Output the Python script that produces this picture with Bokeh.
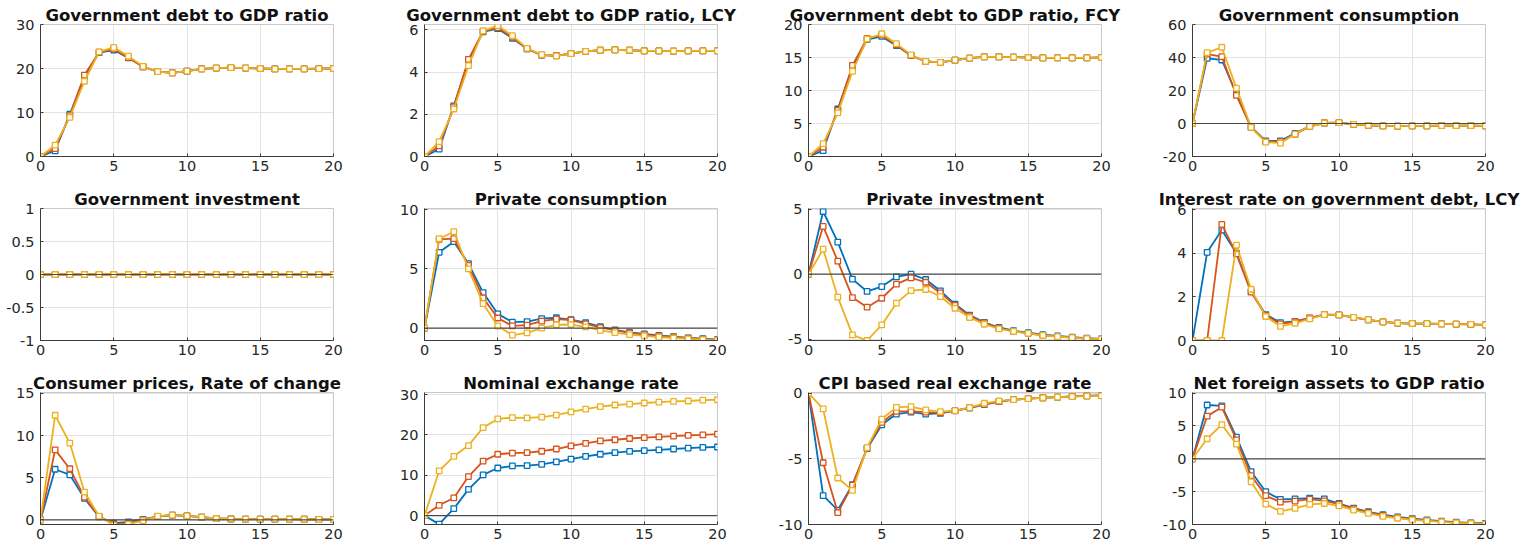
from bokeh.plotting import figure
from bokeh.layouts import gridplot
from bokeh.models import Range1d, FixedTicker, Span
from bokeh.embed import file_html
from bokeh.resources import INLINE

# Quarters after the shock
periods = list(range(21))

# Series colours (scenario 1, 2, 3)
BLUE, RED, YELLOW = "#0072BD", "#D95319", "#EDB120"

# --- Government debt to GDP ratio ---
debt_gdp_1 = [0, 1.3, 9.6, 18.0, 23.6, 24.2, 22.4, 20.4, 19.3, 19.0, 19.4, 19.9, 20.1, 20.2, 20.1, 20.0, 19.9, 19.9, 19.9, 19.95, 20.0]
debt_gdp_2 = [0, 1.8, 9.3, 18.5, 23.7, 24.4, 22.5, 20.4, 19.3, 19.0, 19.4, 19.9, 20.1, 20.2, 20.1, 20.0, 19.9, 19.9, 19.9, 19.95, 20.0]
debt_gdp_3 = [0, 2.6, 8.9, 17.1, 23.8, 24.8, 22.8, 20.5, 19.3, 19.0, 19.4, 19.9, 20.1, 20.2, 20.1, 20.0, 19.9, 19.9, 19.9, 19.95, 20.0]

# --- Government debt to GDP ratio, LCY ---
debt_lcy_1 = [0, 0.35, 2.4, 4.5, 5.9, 6.05, 5.6, 5.1, 4.8, 4.78, 4.87, 4.98, 5.03, 5.05, 5.03, 5.0, 5.0, 4.99, 5.0, 5.0, 5.0]
debt_lcy_2 = [0, 0.5, 2.35, 4.6, 5.93, 6.1, 5.65, 5.1, 4.8, 4.77, 4.87, 4.98, 5.03, 5.05, 5.03, 5.0, 5.0, 4.99, 5.0, 5.0, 5.0]
debt_lcy_3 = [0, 0.7, 2.25, 4.3, 5.95, 6.2, 5.72, 5.12, 4.82, 4.76, 4.87, 4.98, 5.03, 5.05, 5.03, 5.0, 5.0, 4.99, 5.0, 5.0, 5.0]

# --- Government debt to GDP ratio, FCY ---
debt_fcy_1 = [0, 0.9, 7.2, 13.5, 17.7, 18.2, 16.8, 15.3, 14.4, 14.25, 14.6, 14.9, 15.1, 15.1, 15.05, 15.0, 14.95, 14.95, 14.95, 14.95, 15.0]
debt_fcy_2 = [0, 1.4, 7.0, 13.8, 17.9, 18.4, 16.9, 15.3, 14.4, 14.25, 14.6, 14.9, 15.1, 15.1, 15.05, 15.0, 14.95, 14.95, 14.95, 14.95, 15.0]
debt_fcy_3 = [0, 1.95, 6.6, 12.9, 17.8, 18.6, 17.1, 15.4, 14.4, 14.25, 14.6, 14.9, 15.1, 15.1, 15.05, 15.0, 14.95, 14.95, 14.95, 14.95, 15.0]

# --- Government consumption ---
gov_cons_1 = [0, 39.5, 38.5, 18.0, -2.0, -10.5, -10.5, -6.0, -1.7, 0.3, 0.5, -0.5, -1.1, -1.5, -1.6, -1.5, -1.4, -1.3, -1.3, -1.3, -1.4]
gov_cons_2 = [0, 42.0, 40.5, 17.0, -2.5, -11.0, -11.0, -6.5, -1.8, 0.3, 0.5, -0.5, -1.1, -1.5, -1.6, -1.5, -1.4, -1.3, -1.3, -1.3, -1.4]
gov_cons_3 = [0, 42.9, 46.2, 21.4, -2.3, -11.3, -11.9, -6.4, -1.7, 0.3, 0.5, -0.5, -1.1, -1.5, -1.6, -1.5, -1.4, -1.3, -1.3, -1.3, -1.4]

# --- Government investment ---
gov_inv_1 = [0] * 21
gov_inv_2 = [0] * 21
gov_inv_3 = [0] * 21

# --- Private consumption ---
priv_cons_1 = [0, 6.4, 7.3, 5.45, 3.0, 1.2, 0.5, 0.55, 0.8, 0.87, 0.72, 0.45, 0.12, -0.15, -0.37, -0.5, -0.62, -0.72, -0.82, -0.9, -0.97]
priv_cons_2 = [0, 7.5, 7.55, 5.3, 2.55, 0.85, 0.18, 0.25, 0.58, 0.75, 0.68, 0.35, 0.05, -0.2, -0.4, -0.55, -0.66, -0.76, -0.86, -0.93, -1.0]
priv_cons_3 = [0, 7.55, 8.14, 5.0, 2.06, 0.17, -0.59, -0.4, 0.0, 0.28, 0.3, 0.1, -0.2, -0.38, -0.55, -0.66, -0.76, -0.84, -0.92, -0.98, -1.05]

# --- Private investment ---
priv_inv_1 = [0, 4.82, 2.46, -0.38, -1.33, -0.95, -0.2, 0.0, -0.41, -1.28, -2.3, -3.15, -3.7, -4.1, -4.35, -4.5, -4.65, -4.75, -4.85, -4.92, -4.97]
priv_inv_2 = [0, 3.67, 1.0, -1.8, -2.54, -1.85, -0.77, -0.28, -0.62, -1.44, -2.4, -3.2, -3.75, -4.15, -4.4, -4.55, -4.7, -4.8, -4.88, -4.95, -5.0]
priv_inv_3 = [0, 1.92, -1.77, -4.67, -5.1, -3.9, -2.23, -1.26, -1.18, -1.72, -2.62, -3.33, -3.85, -4.2, -4.4, -4.55, -4.7, -4.8, -4.88, -4.95, -5.0]

# --- Interest rate on government debt, LCY ---
rate_lcy_1 = [0, 4.04, 5.06, 4.0, 2.24, 1.19, 0.82, 0.88, 1.03, 1.19, 1.17, 1.06, 0.95, 0.85, 0.8, 0.78, 0.77, 0.76, 0.75, 0.74, 0.72]
rate_lcy_2 = [0, 0, 5.32, 3.97, 2.22, 1.15, 0.76, 0.86, 1.04, 1.19, 1.17, 1.06, 0.95, 0.85, 0.8, 0.78, 0.77, 0.76, 0.75, 0.74, 0.72]
rate_lcy_3 = [0, 0, 0, 4.37, 2.35, 1.1, 0.65, 0.79, 0.99, 1.19, 1.17, 1.06, 0.96, 0.85, 0.8, 0.78, 0.77, 0.76, 0.75, 0.74, 0.72]

# --- Consumer prices, rate of change ---
cpi_1 = [0, 6.0, 5.34, 2.55, 0.35, -0.4, -0.25, 0.05, 0.4, 0.55, 0.48, 0.32, 0.16, 0.1, 0.08, 0.08, 0.08, 0.08, 0.07, 0.05, 0.05]
cpi_2 = [0, 8.3, 6.06, 2.7, 0.4, -0.5, -0.4, 0.0, 0.42, 0.56, 0.48, 0.32, 0.16, 0.1, 0.08, 0.08, 0.08, 0.08, 0.07, 0.05, 0.05]
cpi_3 = [0, 12.4, 9.1, 3.3, 0.44, -0.62, -0.52, -0.08, 0.44, 0.56, 0.48, 0.32, 0.16, 0.1, 0.08, 0.08, 0.08, 0.08, 0.07, 0.05, 0.05]

# --- Nominal exchange rate ---
ner_1 = [0, -2.1, 1.74, 6.5, 10.1, 11.8, 12.3, 12.4, 12.7, 13.3, 14.0, 14.7, 15.2, 15.6, 15.9, 16.1, 16.3, 16.5, 16.7, 16.9, 17.0]
ner_2 = [0, 2.56, 4.38, 9.67, 13.5, 15.2, 15.5, 15.6, 15.95, 16.5, 17.3, 17.9, 18.5, 18.8, 19.1, 19.3, 19.5, 19.7, 19.9, 20.0, 20.2]
ner_3 = [0, 11.07, 14.7, 17.36, 21.8, 23.96, 24.3, 24.2, 24.4, 24.9, 25.7, 26.4, 27.0, 27.4, 27.6, 27.9, 28.1, 28.3, 28.4, 28.6, 28.7]

# --- CPI based real exchange rate ---
rer_1 = [0, -7.8, -8.9, -6.97, -4.23, -2.41, -1.59, -1.44, -1.59, -1.54, -1.33, -1.13, -0.87, -0.65, -0.5, -0.42, -0.35, -0.3, -0.25, -0.2, -0.18]
rer_2 = [0, -5.3, -9.1, -7.0, -4.18, -2.23, -1.38, -1.38, -1.45, -1.5, -1.35, -1.1, -0.85, -0.65, -0.5, -0.42, -0.35, -0.3, -0.25, -0.2, -0.18]
rer_3 = [0, -1.2, -6.46, -7.4, -4.15, -1.97, -1.08, -1.03, -1.28, -1.41, -1.33, -1.1, -0.77, -0.59, -0.5, -0.42, -0.35, -0.3, -0.27, -0.22, -0.2]

# --- Net foreign assets to GDP ratio ---
nfa_1 = [0, 8.2, 8.06, 3.3, -1.94, -5.0, -6.17, -6.1, -5.97, -6.1, -6.8, -7.5, -8.06, -8.5, -8.85, -9.1, -9.3, -9.5, -9.65, -9.75, -9.85]
nfa_2 = [0, 6.5, 7.86, 2.9, -2.55, -5.6, -6.6, -6.45, -6.15, -6.4, -6.9, -7.6, -8.15, -8.6, -8.95, -9.2, -9.4, -9.55, -9.7, -9.8, -9.9]
nfa_3 = [0, 3.06, 5.2, 2.24, -3.5, -6.9, -8.0, -7.55, -6.95, -6.8, -7.15, -7.8, -8.3, -8.75, -9.05, -9.3, -9.45, -9.6, -9.75, -9.85, -9.95]

x_ticks = [0, 5, 10, 15, 20]

# title, series, y-limits, y-ticks, draw zero line
panels = [
    ("Government debt to GDP ratio", (debt_gdp_1, debt_gdp_2, debt_gdp_3), (0, 30), [0, 10, 20, 30], False),
    ("Government debt to GDP ratio, LCY", (debt_lcy_1, debt_lcy_2, debt_lcy_3), (0, 6.25), [0, 2, 4, 6], False),
    ("Government debt to GDP ratio, FCY", (debt_fcy_1, debt_fcy_2, debt_fcy_3), (0, 20), [0, 5, 10, 15, 20], False),
    ("Government consumption", (gov_cons_1, gov_cons_2, gov_cons_3), (-20, 60), [-20, 0, 20, 40, 60], True),
    ("Government investment", (gov_inv_1, gov_inv_2, gov_inv_3), (-1, 1), [-1, -0.5, 0, 0.5, 1], True),
    ("Private consumption", (priv_cons_1, priv_cons_2, priv_cons_3), (-1.05, 10.1), [0, 5, 10], True),
    ("Private investment", (priv_inv_1, priv_inv_2, priv_inv_3), (-5.1, 5.05), [-5, 0, 5], True),
    ("Interest rate on government debt, LCY", (rate_lcy_1, rate_lcy_2, rate_lcy_3), (0, 6.05), [0, 2, 4, 6], False),
    ("Consumer prices, Rate of change", (cpi_1, cpi_2, cpi_3), (-0.55, 15.1), [0, 5, 10, 15], True),
    ("Nominal exchange rate", (ner_1, ner_2, ner_3), (-2.2, 30.5), [0, 10, 20, 30], True),
    ("CPI based real exchange rate", (rer_1, rer_2, rer_3), (-10, 0.05), [-10, -5, 0], False),
    ("Net foreign assets to GDP ratio", (nfa_1, nfa_2, nfa_3), (-10, 10.1), [-10, -5, 0, 5, 10], True),
]

FONT = "DejaVu Sans"


def tick_label(v):
    return str(int(v)) if float(v).is_integer() else str(v)


def make_panel(title, series, ylim, yticks, zero_line):
    p = figure(width=384, height=184, output_backend="svg", toolbar_location=None,
               x_range=Range1d(0, 20), y_range=Range1d(*ylim),
               min_border_left=40, min_border_right=51, min_border_top=24, min_border_bottom=28)
    p.background_fill_color = "white"
    p.border_fill_color = "white"
    p.outline_line_color = "#c8c8c8"

    p.title.text = title
    p.title.align = "center"
    p.title.text_font = FONT
    p.title.text_font_size = "16.5px"
    p.title.text_font_style = "bold"
    p.title.text_color = "#111111"
    p.title.standoff = 0
    p.title.offset = 0

    p.xaxis.ticker = FixedTicker(ticks=x_ticks)
    p.yaxis.ticker = FixedTicker(ticks=yticks)
    p.yaxis.major_label_overrides = {t: tick_label(t) for t in yticks}
    for ax in (p.xaxis, p.yaxis):
        ax.axis_line_color = "#3c3c3c"
        ax.axis_line_width = 1
        ax.major_tick_in = 3
        ax.major_tick_out = 0
        ax.minor_tick_in = 0
        ax.minor_tick_out = 0
        ax.major_tick_line_color = "#3c3c3c"
        ax.major_label_text_font = FONT
        ax.major_label_text_font_size = "14.5px"
        ax.major_label_text_color = "#262626"
    p.xaxis.major_label_standoff = 4
    p.yaxis.major_label_standoff = 6

    p.xgrid.ticker = FixedTicker(ticks=x_ticks)
    p.ygrid.ticker = FixedTicker(ticks=yticks)
    p.grid.grid_line_color = "#e3e3e3"
    p.grid.grid_line_width = 1

    if zero_line:
        p.add_layout(Span(location=0, dimension="width", line_color="#4a4a4a", line_width=1.2))

    for values, color in zip(series, (BLUE, RED, YELLOW)):
        p.line(periods, values, line_color=color, line_width=1.8)
        p.scatter(periods, values, marker="square", size=5.5, line_color=color,
                  fill_color="white", line_width=1.3)
    return p


figs = [make_panel(*cfg) for cfg in panels]
grid = gridplot(figs, ncols=4, toolbar_location=None)

open("out.html", "w").write(file_html(grid, INLINE))
